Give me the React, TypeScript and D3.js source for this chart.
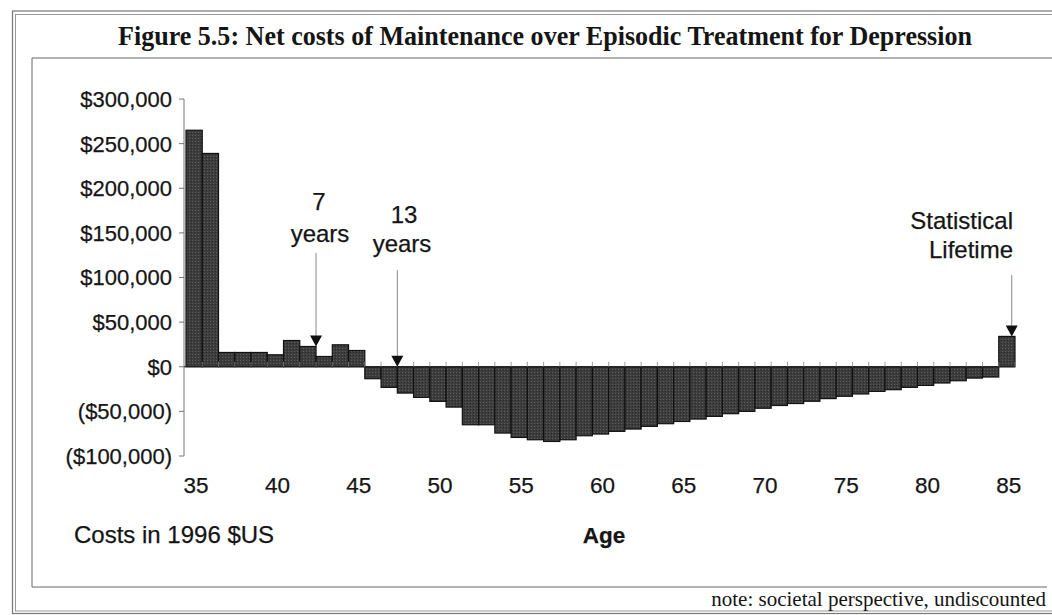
import React from "react";
import * as d3 from "d3";

const ages: number[] = d3.range(35, 86);
const netCosts: number[] = [
  265000, 239000, 16000, 16000, 16000, 13400, 29400, 22700, 11500, 24600, 18200,
  -13400, -23100, -29500, -34300, -38800, -45200, -65000, -65000, -74300, -79200,
  -81800, -83700, -81800, -77300, -75400, -72400, -69800, -66800, -63800, -61300,
  -58600, -55600, -52600, -50000, -46500, -43400, -41200, -38700, -35700, -33100,
  -30500, -27600, -25700, -23100, -20900, -18200, -15700, -12700, -11500, 34000,
];
const yTicks: number[] = [-100000, -50000, 0, 50000, 100000, 150000, 200000, 250000, 300000];
const xLabelAges: number[] = [35, 40, 45, 50, 55, 60, 65, 70, 75, 80, 85];
const annotationAges: number[] = [42, 48, 85];
const annotationLines: string[][] = [["7", "years"], ["13", "years"], ["Statistical", "Lifetime"]];

const W = 1052;
const H = 615;
const SANS = "'Liberation Sans', Arial, sans-serif";
const SERIF = "'Liberation Serif', 'Times New Roman', serif";
const INK = "#151515";

function fmt(v: number): string {
  const s = "$" + d3.format(",")(Math.abs(v));
  return v < 0 ? "(" + s + ")" : s;
}

export default function App() {
  const x = d3.scaleBand<number>().domain(ages).range([186, 1015]).padding(0);
  const y = d3.scaleLinear().domain([-100000, 300000]).range([456, 99]);
  const bw = x.bandwidth();
  const y0 = y(0);

  // annotation geometry (position along band scale)
  const annX = [x(annotationAges[0])! + bw, x(annotationAges[1])!, x(annotationAges[2])! + bw * 0.8];
  const annTipVal = [netCosts[ages.indexOf(42)], 0, netCosts[ages.indexOf(85)]];
  const annLineTop = [253, 270, 275];

  const txt = { fontFamily: SANS, fill: INK, stroke: INK, strokeWidth: 0.25 } as const;

  return (
    <svg width={W} height={H} style={{ position: "absolute", left: 0, top: 0, background: "#fff" }}>
      <defs>
        <pattern id="stip" width="3" height="3" patternUnits="userSpaceOnUse">
          <rect width="3" height="3" fill="#3d3d3d" />
          <rect x="0" y="0" width="1" height="1" fill="#5c5c5c" />
          <rect x="2" y="1" width="1" height="1" fill="#2a2a2a" />
        </pattern>
      </defs>
      {/* outer double border */}
      <rect x={12.5} y={11} width={1100} height={602.5} fill="none" stroke="#777" strokeWidth={1.2} />
      <rect x={15.5} y={14.5} width={1100} height={596.5} fill="none" stroke="#999" strokeWidth={1} />
      {/* inner chart frame */}
      <line x1={32} y1={58} x2={1052} y2={58} stroke="#666" strokeWidth={1} />
      <line x1={32} y1={58} x2={32} y2={587} stroke="#666" strokeWidth={1} />
      <line x1={32} y1={587} x2={1047} y2={587} stroke="#666" strokeWidth={1} />

      {/* title */}
      <text x={545} y={45} textAnchor="middle" fontFamily={SERIF} fontWeight="bold" fontSize={27}
        textLength={854} lengthAdjust="spacingAndGlyphs" fill={INK}>
        Figure 5.5: Net costs of Maintenance over Episodic Treatment for Depression
      </text>

      {/* bars */}
      {ages.map((a, i) => {
        const v = netCosts[i];
        const top = Math.min(y(v), y0);
        const h = Math.abs(y(v) - y0);
        return (
          <rect key={a} x={x(a)!} y={top} width={bw} height={h}
            fill="url(#stip)" stroke="#111" strokeWidth={1.2} />
        );
      })}

      {/* y axis */}
      <line x1={184} y1={y(300000)} x2={184} y2={y(-100000)} stroke="#777" strokeWidth={1} />
      {yTicks.map((t) => (
        <g key={t}>
          <line x1={179} x2={184} y1={y(t)} y2={y(t)} stroke="#777" strokeWidth={1} />
          <text x={172} y={y(t)} dy="0.36em" textAnchor="end" fontSize={22} {...txt}>
            {fmt(t)}
          </text>
        </g>
      ))}

      {/* x axis at zero */}
      <line x1={184} x2={1015} y1={y0} y2={y0} stroke="#222" strokeWidth={1.2} />
      {ages.map((a) => (
        <line key={"t" + a} x1={x(a)! + bw} x2={x(a)! + bw} y1={y0 - 5} y2={y0} stroke="#888" strokeWidth={0.8} />
      ))}
      {xLabelAges.map((a) => (
        <text key={"l" + a} x={x(a)! + bw / 2 + 2} y={493} textAnchor="middle" fontSize={22.5} {...txt}>
          {a}
        </text>
      ))}

      {/* annotations */}
      {annotationAges.map((a, i) => {
        const ax = annX[i];
        const tip = y(annTipVal[i]);
        return (
          <g key={"a" + a}>
            <line x1={ax} x2={ax} y1={annLineTop[i]} y2={tip - 9} stroke="#888" strokeWidth={1} />
            <path d={`M${ax - 6},${tip - 11} L${ax + 6},${tip - 11} L${ax},${tip} Z`} fill="#111" />
          </g>
        );
      })}
      <text x={319} y={210} textAnchor="middle" fontSize={24} {...txt}>{annotationLines[0][0]}</text>
      <text x={320} y={242} textAnchor="middle" fontSize={24} {...txt}>{annotationLines[0][1]}</text>
      <text x={404} y={223} textAnchor="middle" fontSize={24} {...txt}>{annotationLines[1][0]}</text>
      <text x={402} y={252} textAnchor="middle" fontSize={24} {...txt}>{annotationLines[1][1]}</text>
      <text x={1013} y={229} textAnchor="end" fontSize={24} {...txt}>{annotationLines[2][0]}</text>
      <text x={1013} y={258} textAnchor="end" fontSize={24} {...txt}>{annotationLines[2][1]}</text>

      {/* footer texts */}
      <text x={74} y={543} fontSize={24} {...txt}>Costs in 1996 $US</text>
      <text x={604} y={543} textAnchor="middle" fontSize={22.5} fontWeight="bold" {...txt}>Age</text>
      <text x={1046} y={606} textAnchor="end" fontFamily={SERIF} fontSize={21} fill={INK}>note: societal perspective, undiscounted</text>
    </svg>
  );
}
